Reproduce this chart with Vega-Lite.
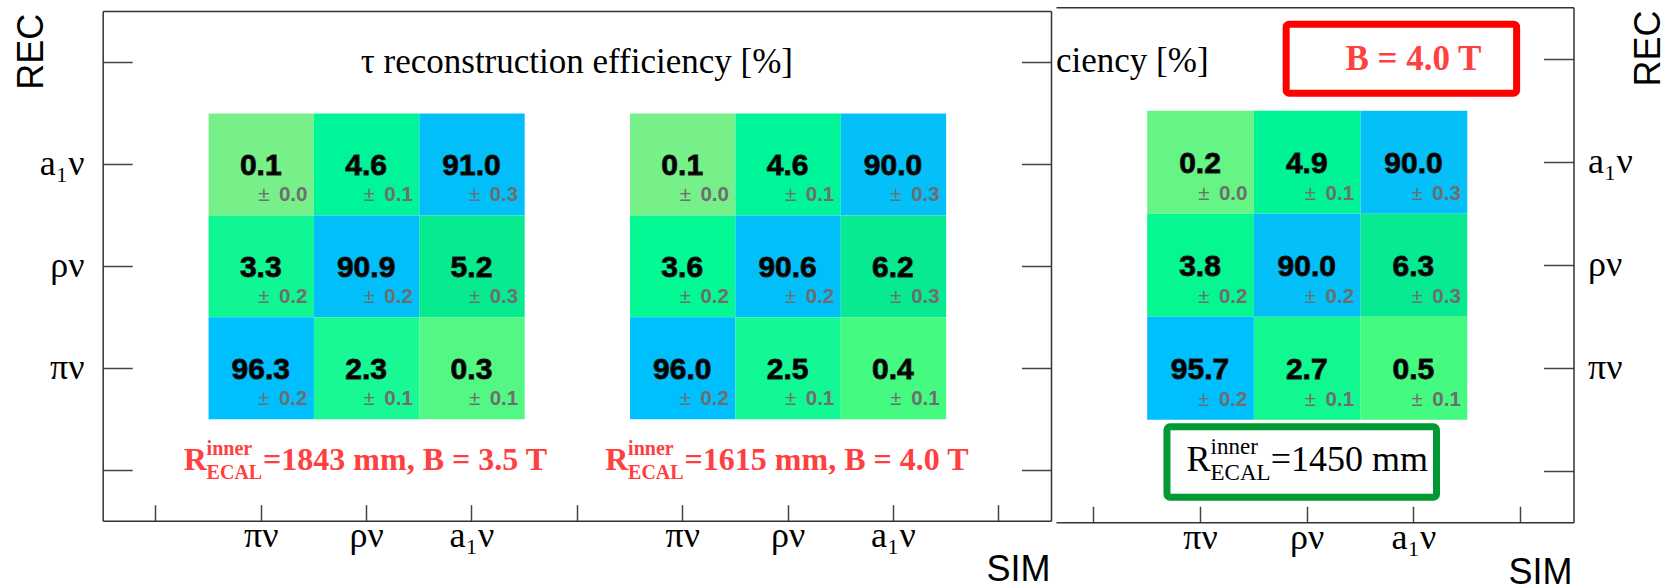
{
  "$schema": "https://vega.github.io/schema/vega-lite/v6.json",
  "width": 1669,
  "height": 586,
  "autosize": {"type": "none"},
  "padding": 0,
  "background": "white",
  "config": {
    "view": {"stroke": null},
    "axis": {"grid": false, "domainColor": "#333", "domainWidth": 1.5, "tickColor": "#444", "tickWidth": 1.5, "labelFont": "Liberation Serif", "labelFontSize": 36, "labelColor": "#000", "titleFont": "Liberation Sans", "titleFontSize": 36, "titleFontWeight": "normal", "titleColor": "#000", "labelOverlap": false, "labelFlush": false}
  },
  "datasets": {
    "cells": [
      {"canvas": "left", "setup": "1843 mm, 3.5 T", "sim": "πν", "rec": "a₁ν", "simX": 1.5, "recY": 3.5, "eff": 0.1, "err": 0.0},
      {"canvas": "left", "setup": "1843 mm, 3.5 T", "sim": "ρν", "rec": "a₁ν", "simX": 2.5, "recY": 3.5, "eff": 4.6, "err": 0.1},
      {"canvas": "left", "setup": "1843 mm, 3.5 T", "sim": "a₁ν", "rec": "a₁ν", "simX": 3.5, "recY": 3.5, "eff": 91.0, "err": 0.3},
      {"canvas": "left", "setup": "1843 mm, 3.5 T", "sim": "πν", "rec": "ρν", "simX": 1.5, "recY": 2.5, "eff": 3.3, "err": 0.2},
      {"canvas": "left", "setup": "1843 mm, 3.5 T", "sim": "ρν", "rec": "ρν", "simX": 2.5, "recY": 2.5, "eff": 90.9, "err": 0.2},
      {"canvas": "left", "setup": "1843 mm, 3.5 T", "sim": "a₁ν", "rec": "ρν", "simX": 3.5, "recY": 2.5, "eff": 5.2, "err": 0.3},
      {"canvas": "left", "setup": "1843 mm, 3.5 T", "sim": "πν", "rec": "πν", "simX": 1.5, "recY": 1.5, "eff": 96.3, "err": 0.2},
      {"canvas": "left", "setup": "1843 mm, 3.5 T", "sim": "ρν", "rec": "πν", "simX": 2.5, "recY": 1.5, "eff": 2.3, "err": 0.1},
      {"canvas": "left", "setup": "1843 mm, 3.5 T", "sim": "a₁ν", "rec": "πν", "simX": 3.5, "recY": 1.5, "eff": 0.3, "err": 0.1},
      {"canvas": "left", "setup": "1615 mm, 4.0 T", "sim": "πν", "rec": "a₁ν", "simX": 5.5, "recY": 3.5, "eff": 0.1, "err": 0.0},
      {"canvas": "left", "setup": "1615 mm, 4.0 T", "sim": "ρν", "rec": "a₁ν", "simX": 6.5, "recY": 3.5, "eff": 4.6, "err": 0.1},
      {"canvas": "left", "setup": "1615 mm, 4.0 T", "sim": "a₁ν", "rec": "a₁ν", "simX": 7.5, "recY": 3.5, "eff": 90.0, "err": 0.3},
      {"canvas": "left", "setup": "1615 mm, 4.0 T", "sim": "πν", "rec": "ρν", "simX": 5.5, "recY": 2.5, "eff": 3.6, "err": 0.2},
      {"canvas": "left", "setup": "1615 mm, 4.0 T", "sim": "ρν", "rec": "ρν", "simX": 6.5, "recY": 2.5, "eff": 90.6, "err": 0.2},
      {"canvas": "left", "setup": "1615 mm, 4.0 T", "sim": "a₁ν", "rec": "ρν", "simX": 7.5, "recY": 2.5, "eff": 6.2, "err": 0.3},
      {"canvas": "left", "setup": "1615 mm, 4.0 T", "sim": "πν", "rec": "πν", "simX": 5.5, "recY": 1.5, "eff": 96.0, "err": 0.2},
      {"canvas": "left", "setup": "1615 mm, 4.0 T", "sim": "ρν", "rec": "πν", "simX": 6.5, "recY": 1.5, "eff": 2.5, "err": 0.1},
      {"canvas": "left", "setup": "1615 mm, 4.0 T", "sim": "a₁ν", "rec": "πν", "simX": 7.5, "recY": 1.5, "eff": 0.4, "err": 0.1},
      {"canvas": "right", "setup": "1450 mm, 4.0 T", "sim": "πν", "rec": "a₁ν", "simX": 1.5, "recY": 3.5, "eff": 0.2, "err": 0.0},
      {"canvas": "right", "setup": "1450 mm, 4.0 T", "sim": "ρν", "rec": "a₁ν", "simX": 2.5, "recY": 3.5, "eff": 4.9, "err": 0.1},
      {"canvas": "right", "setup": "1450 mm, 4.0 T", "sim": "a₁ν", "rec": "a₁ν", "simX": 3.5, "recY": 3.5, "eff": 90.0, "err": 0.3},
      {"canvas": "right", "setup": "1450 mm, 4.0 T", "sim": "πν", "rec": "ρν", "simX": 1.5, "recY": 2.5, "eff": 3.8, "err": 0.2},
      {"canvas": "right", "setup": "1450 mm, 4.0 T", "sim": "ρν", "rec": "ρν", "simX": 2.5, "recY": 2.5, "eff": 90.0, "err": 0.2},
      {"canvas": "right", "setup": "1450 mm, 4.0 T", "sim": "a₁ν", "rec": "ρν", "simX": 3.5, "recY": 2.5, "eff": 6.3, "err": 0.3},
      {"canvas": "right", "setup": "1450 mm, 4.0 T", "sim": "πν", "rec": "πν", "simX": 1.5, "recY": 1.5, "eff": 95.7, "err": 0.2},
      {"canvas": "right", "setup": "1450 mm, 4.0 T", "sim": "ρν", "rec": "πν", "simX": 2.5, "recY": 1.5, "eff": 2.7, "err": 0.1},
      {"canvas": "right", "setup": "1450 mm, 4.0 T", "sim": "a₁ν", "rec": "πν", "simX": 3.5, "recY": 1.5, "eff": 0.5, "err": 0.1}
    ]
  },
  "resolve": {"scale": {"x": "independent", "y": "independent", "color": "independent"}, "axis": {"x": "independent", "y": "independent"}},
  "layer": [
    {
      "resolve": {"axis": {"x": "independent", "y": "independent"}},
      "layer": [
        {
          "data": {"name": "cells"},
          "transform": [{"filter": "datum.canvas === 'left'"}],
          "mark": {"type": "rect"},
          "encoding": {
            "x": {"field": "simX", "type": "quantitative", "bin": {"step": 1, "extent": [0, 9]}, "scale": {"domain": [0, 9], "range": [102.7, 1051], "nice": false, "zero": false},
              "axis": {"orient": "bottom", "offset": -65.3, "values": [0.5, 1.5, 2.5, 3.5, 4.5, 5.5, 6.5, 7.5, 8.5], "labelExpr": "datum.value % 4 == 1.5 ? 'πν' : datum.value % 4 == 2.5 ? 'ρν' : datum.value % 4 == 3.5 ? 'a₁ν' : ''", "tickSize": -16, "labelPadding": 42, "labelBaseline": "alphabetic", "domain": true, "title": "SIM", "titleAnchor": "end", "titleAlign": "right", "titleBaseline": "alphabetic", "titleX": 1050, "titleY": 60}},
            "y": {"field": "recY", "type": "quantitative", "bin": {"step": 1, "extent": [0, 5]}, "scale": {"domain": [0, 5], "range": [520.7, 11], "nice": false, "zero": false},
              "axis": {"orient": "left", "offset": -102.7, "values": [0.5, 1.5, 2.5, 3.5, 4.5], "labelExpr": "datum.value == 1.5 ? 'πν' : datum.value == 2.5 ? 'ρν' : datum.value == 3.5 ? 'a₁ν' : ''", "tickSize": -29.5, "labelPadding": 48.2, "domain": true, "title": "REC", "titleAngle": 270, "titleAlign": "right", "titleBaseline": "alphabetic", "titleX": -60, "titleY": 13.3}},
            "color": {"field": "eff", "type": "quantitative", "legend": null,
              "scale": {"type": "linear", "domain": [0.1, 0.3, 0.4, 2.3, 2.5, 3.3, 3.6, 4.6, 5.2, 6.2, 90.0, 96.3],
                "range": ["#78f08a", "#52f883", "#45fa80", "#18f894", "#12f894", "#10f692", "#04f894", "#00f598", "#08ea90", "#08ea92", "#04bff8", "#00bfff"]}}
          }
        },
        {
          "data": {"name": "cells"},
          "transform": [{"filter": "datum.canvas === 'left'"}],
          "mark": {"type": "text", "font": "Liberation Sans", "fontSize": 30, "fontWeight": "bold", "baseline": "alphabetic", "dy": 11, "color": "#000", "stroke": "#1a1a1a", "strokeWidth": 0.9},
          "encoding": {
            "x": {"field": "simX", "type": "quantitative", "bin": {"step": 1, "extent": [0, 9]},
              "axis": {"orient": "top", "offset": -11, "domain": true, "ticks": false, "labels": false, "title": null}},
            "y": {"field": "recY", "type": "quantitative", "bin": {"step": 1, "extent": [0, 5]},
              "axis": {"orient": "right", "offset": -618, "values": [0.5, 1.5, 2.5, 3.5, 4.5], "labels": false, "tickSize": -29.5, "domain": true, "title": null}},
            "text": {"field": "eff", "type": "quantitative", "format": ".1f"}
          }
        },
        {
          "data": {"name": "cells"},
          "transform": [{"filter": "datum.canvas === 'left'"}],
          "mark": {"type": "text", "font": "Liberation Sans", "fontSize": 20.5, "fontWeight": "bold", "baseline": "alphabetic", "align": "right", "dx": -6, "dy": -13.4, "color": "#6e6e6e"},
          "encoding": {
            "x": {"field": "simX", "type": "quantitative", "bin": {"step": 1, "extent": [0, 9]}, "bandPosition": 1, "axis": null},
            "y": {"field": "recY", "type": "quantitative", "bin": {"step": 1, "extent": [0, 5]}, "bandPosition": 0, "axis": null},
            "text": {"field": "err", "type": "quantitative", "format": ".1f"}
          }
        },
        {
          "data": {"name": "cells"},
          "transform": [{"filter": "datum.canvas === 'left'"}],
          "mark": {"type": "text", "font": "Liberation Sans", "fontSize": 20.5, "baseline": "alphabetic", "align": "right", "dx": -44, "dy": -13.4, "color": "#6e6e6e", "text": "±"},
          "encoding": {
            "x": {"field": "simX", "type": "quantitative", "bin": {"step": 1, "extent": [0, 9]}, "bandPosition": 1, "axis": null},
            "y": {"field": "recY", "type": "quantitative", "bin": {"step": 1, "extent": [0, 5]}, "bandPosition": 0, "axis": null}
          }
        },
        {
          "data": {"values": [{}]},
          "mark": {"type": "text", "font": "Liberation Serif", "fontSize": 35, "baseline": "alphabetic", "align": "center", "color": "#000", "text": "τ reconstruction efficiency [%]"},
          "encoding": {"x": {"datum": 4.5, "type": "quantitative", "axis": null}, "y": {"datum": 4.39, "type": "quantitative", "axis": null}}
        },
        {
          "data": {"values": [{}]},
          "mark": {"type": "text", "font": "Liberation Serif", "fontSize": 32, "fontWeight": "bold", "baseline": "alphabetic", "align": "left", "dx": -182.4, "color": "#ff4040", "text": "R"},
          "encoding": {"x": {"datum": 2.5, "type": "quantitative", "axis": null}, "y": {"datum": 0.5, "type": "quantitative", "axis": null}}
        },
        {
          "data": {"values": [{}]},
          "mark": {"type": "text", "font": "Liberation Serif", "fontSize": 20, "fontWeight": "bold", "baseline": "alphabetic", "align": "left", "dx": -159.5, "dy": -14.3, "color": "#ff4040", "text": "inner"},
          "encoding": {"x": {"datum": 2.5, "type": "quantitative", "axis": null}, "y": {"datum": 0.5, "type": "quantitative", "axis": null}}
        },
        {
          "data": {"values": [{}]},
          "mark": {"type": "text", "font": "Liberation Serif", "fontSize": 20, "fontWeight": "bold", "baseline": "alphabetic", "align": "left", "dx": -159.5, "dy": 9, "color": "#ff4040", "text": "ECAL"},
          "encoding": {"x": {"datum": 2.5, "type": "quantitative", "axis": null}, "y": {"datum": 0.5, "type": "quantitative", "axis": null}}
        },
        {
          "data": {"values": [{}]},
          "mark": {"type": "text", "font": "Liberation Serif", "fontSize": 32, "fontWeight": "bold", "baseline": "alphabetic", "align": "left", "dx": -103, "color": "#ff4040", "text": "=1843 mm, B = 3.5 T"},
          "encoding": {"x": {"datum": 2.5, "type": "quantitative", "axis": null}, "y": {"datum": 0.5, "type": "quantitative", "axis": null}}
        },
        {
          "data": {"values": [{}]},
          "mark": {"type": "text", "font": "Liberation Serif", "fontSize": 32, "fontWeight": "bold", "baseline": "alphabetic", "align": "left", "dx": -182.4, "color": "#ff4040", "text": "R"},
          "encoding": {"x": {"datum": 6.5, "type": "quantitative", "axis": null}, "y": {"datum": 0.5, "type": "quantitative", "axis": null}}
        },
        {
          "data": {"values": [{}]},
          "mark": {"type": "text", "font": "Liberation Serif", "fontSize": 20, "fontWeight": "bold", "baseline": "alphabetic", "align": "left", "dx": -159.5, "dy": -14.3, "color": "#ff4040", "text": "inner"},
          "encoding": {"x": {"datum": 6.5, "type": "quantitative", "axis": null}, "y": {"datum": 0.5, "type": "quantitative", "axis": null}}
        },
        {
          "data": {"values": [{}]},
          "mark": {"type": "text", "font": "Liberation Serif", "fontSize": 20, "fontWeight": "bold", "baseline": "alphabetic", "align": "left", "dx": -159.5, "dy": 9, "color": "#ff4040", "text": "ECAL"},
          "encoding": {"x": {"datum": 6.5, "type": "quantitative", "axis": null}, "y": {"datum": 0.5, "type": "quantitative", "axis": null}}
        },
        {
          "data": {"values": [{}]},
          "mark": {"type": "text", "font": "Liberation Serif", "fontSize": 32, "fontWeight": "bold", "baseline": "alphabetic", "align": "left", "dx": -103, "color": "#ff4040", "text": "=1615 mm, B = 4.0 T"},
          "encoding": {"x": {"datum": 6.5, "type": "quantitative", "axis": null}, "y": {"datum": 0.5, "type": "quantitative", "axis": null}}
        }
      ]
    },
    {
      "resolve": {"axis": {"x": "independent", "y": "independent"}},
      "layer": [
        {
          "data": {"name": "cells"},
          "transform": [{"filter": "datum.canvas === 'right'"}],
          "mark": {"type": "rect"},
          "encoding": {
            "x": {"field": "simX", "type": "quantitative", "bin": {"step": 1, "extent": [0, 5]}, "scale": {"domain": [0.15, 5], "range": [1056, 1573.5], "nice": false, "zero": false},
              "axis": {"orient": "bottom", "offset": -63.7, "values": [0.5, 1.5, 2.5, 3.5, 4.5], "labelExpr": "datum.value == 1.5 ? 'πν' : datum.value == 2.5 ? 'ρν' : datum.value == 3.5 ? 'a₁ν' : ''", "tickSize": -16, "labelPadding": 41.7, "labelBaseline": "alphabetic", "domain": true, "title": "SIM", "titleAnchor": "end", "titleAlign": "right", "titleBaseline": "alphabetic", "titleX": 1572, "titleY": 61.5}},
            "y": {"field": "recY", "type": "quantitative", "bin": {"step": 1, "extent": [0, 5]}, "scale": {"domain": [0, 5], "range": [522.3, 7.3], "nice": false, "zero": false},
              "axis": {"orient": "right", "offset": -95.5, "values": [0.5, 1.5, 2.5, 3.5, 4.5], "labelExpr": "datum.value == 1.5 ? 'πν' : datum.value == 2.5 ? 'ρν' : datum.value == 3.5 ? 'a₁ν' : ''", "tickSize": -30, "labelPadding": 44, "labelAlign": "left", "domain": true, "title": "REC", "titleAngle": 270, "titleAlign": "right", "titleBaseline": "alphabetic", "titleX": 85.5, "titleY": 10}},
            "color": {"field": "eff", "type": "quantitative", "legend": null,
              "scale": {"type": "linear", "domain": [0.2, 0.5, 2.7, 3.8, 4.9, 6.3, 90.0, 95.7],
                "range": ["#66f585", "#45fa80", "#12f890", "#06f692", "#00f496", "#08ea92", "#04bff8", "#00bfff"]}}
          }
        },
        {
          "data": {"name": "cells"},
          "transform": [{"filter": "datum.canvas === 'right'"}],
          "mark": {"type": "text", "font": "Liberation Sans", "fontSize": 30, "fontWeight": "bold", "baseline": "alphabetic", "dy": 11, "color": "#000", "stroke": "#1a1a1a", "strokeWidth": 0.9},
          "encoding": {
            "x": {"field": "simX", "type": "quantitative", "bin": {"step": 1, "extent": [0, 5]},
              "axis": {"orient": "top", "offset": -7.3, "domain": true, "ticks": false, "labels": false, "title": null}},
            "y": {"field": "recY", "type": "quantitative", "bin": {"step": 1, "extent": [0, 5]}, "axis": null},
            "text": {"field": "eff", "type": "quantitative", "format": ".1f"}
          }
        },
        {
          "data": {"name": "cells"},
          "transform": [{"filter": "datum.canvas === 'right'"}],
          "mark": {"type": "text", "font": "Liberation Sans", "fontSize": 20.5, "fontWeight": "bold", "baseline": "alphabetic", "align": "right", "dx": -6, "dy": -13.4, "color": "#6e6e6e"},
          "encoding": {
            "x": {"field": "simX", "type": "quantitative", "bin": {"step": 1, "extent": [0, 5]}, "bandPosition": 1, "axis": null},
            "y": {"field": "recY", "type": "quantitative", "bin": {"step": 1, "extent": [0, 5]}, "bandPosition": 0, "axis": null},
            "text": {"field": "err", "type": "quantitative", "format": ".1f"}
          }
        },
        {
          "data": {"name": "cells"},
          "transform": [{"filter": "datum.canvas === 'right'"}],
          "mark": {"type": "text", "font": "Liberation Sans", "fontSize": 20.5, "baseline": "alphabetic", "align": "right", "dx": -44, "dy": -13.4, "color": "#6e6e6e", "text": "±"},
          "encoding": {
            "x": {"field": "simX", "type": "quantitative", "bin": {"step": 1, "extent": [0, 5]}, "bandPosition": 1, "axis": null},
            "y": {"field": "recY", "type": "quantitative", "bin": {"step": 1, "extent": [0, 5]}, "bandPosition": 0, "axis": null}
          }
        },
        {
          "data": {"values": [{}]},
          "mark": {"type": "text", "font": "Liberation Serif", "fontSize": 35, "baseline": "alphabetic", "align": "left", "color": "#000", "text": "ciency [%]"},
          "encoding": {"x": {"datum": 0.15, "type": "quantitative", "axis": null}, "y": {"datum": 4.372, "type": "quantitative", "axis": null}}
        },
        {
          "data": {"values": [{}]},
          "mark": {"type": "rect", "fill": "white", "stroke": "#ff0000", "strokeWidth": 7, "cornerRadius": 3},
          "encoding": {"x": {"datum": 2.307, "type": "quantitative", "axis": null}, "x2": {"datum": 4.467}, "y": {"datum": 4.836, "type": "quantitative", "axis": null}, "y2": {"datum": 4.166}}
        },
        {
          "data": {"values": [{}]},
          "mark": {"type": "text", "font": "Liberation Serif", "fontSize": 35, "fontWeight": "bold", "baseline": "alphabetic", "align": "center", "color": "#ff4040", "text": "B = 4.0 T"},
          "encoding": {"x": {"datum": 3.5, "type": "quantitative", "axis": null}, "y": {"datum": 4.391, "type": "quantitative", "axis": null}}
        },
        {
          "data": {"values": [{}]},
          "mark": {"type": "rect", "fill": "white", "stroke": "#009933", "strokeWidth": 7, "cornerRadius": 3},
          "encoding": {"x": {"datum": 1.19, "type": "quantitative", "axis": null}, "x2": {"datum": 3.716}, "y": {"datum": 0.927, "type": "quantitative", "axis": null}, "y2": {"datum": 0.244}}
        },
        {
          "data": {"values": [{}]},
          "mark": {"type": "text", "font": "Liberation Serif", "fontSize": 36, "baseline": "alphabetic", "align": "left", "dx": -120.3, "color": "#000", "text": "R"},
          "encoding": {"x": {"datum": 2.5, "type": "quantitative", "axis": null}, "y": {"datum": 0.5, "type": "quantitative", "axis": null}}
        },
        {
          "data": {"values": [{}]},
          "mark": {"type": "text", "font": "Liberation Serif", "fontSize": 23, "baseline": "alphabetic", "align": "left", "dx": -96.2, "dy": -16.7, "color": "#000", "text": "inner"},
          "encoding": {"x": {"datum": 2.5, "type": "quantitative", "axis": null}, "y": {"datum": 0.5, "type": "quantitative", "axis": null}}
        },
        {
          "data": {"values": [{}]},
          "mark": {"type": "text", "font": "Liberation Serif", "fontSize": 23, "baseline": "alphabetic", "align": "left", "dx": -96.2, "dy": 9.3, "color": "#000", "text": "ECAL"},
          "encoding": {"x": {"datum": 2.5, "type": "quantitative", "axis": null}, "y": {"datum": 0.5, "type": "quantitative", "axis": null}}
        },
        {
          "data": {"values": [{}]},
          "mark": {"type": "text", "font": "Liberation Serif", "fontSize": 36, "baseline": "alphabetic", "align": "left", "dx": -36.1, "color": "#000", "text": "=1450 mm"},
          "encoding": {"x": {"datum": 2.5, "type": "quantitative", "axis": null}, "y": {"datum": 0.5, "type": "quantitative", "axis": null}}
        }
      ]
    }
  ]
}
